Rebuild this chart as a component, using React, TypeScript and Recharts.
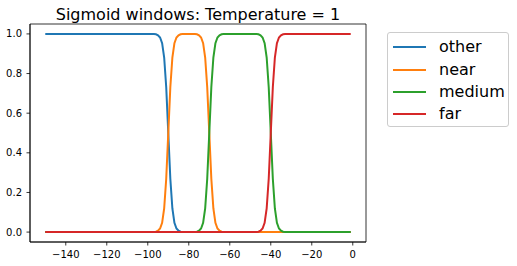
import React from 'react';
import { LineChart, Line, XAxis, YAxis, ReferenceArea, Legend } from 'recharts';

const xs = [-150, -100, -97, -96, -95, -94, -93, -92, -91, -90, -89, -88, -87, -86, -85, -84, -83, -80,
  -77, -76, -75, -74, -73, -72, -71, -70, -69, -68, -67, -66, -65, -64, -63, -55,
  -47, -46, -45, -44, -43, -42, -41, -40, -39, -38, -37, -36, -35, -34, -33, -1];

const otherVals = [1, 1, 0.999, 0.998, 0.993, 0.982, 0.953, 0.881, 0.731, 0.5, 0.269, 0.119, 0.047, 0.018, 0.007, 0.002, 0.001, 0,
  0, 0, 0, 0, 0, 0, 0, 0, 0, 0, 0, 0, 0, 0, 0, 0,
  0, 0, 0, 0, 0, 0, 0, 0, 0, 0, 0, 0, 0, 0, 0, 0];

const nearVals = [0, 0, 0.001, 0.002, 0.007, 0.018, 0.047, 0.119, 0.269, 0.5, 0.731, 0.881, 0.953, 0.982, 0.993, 0.998, 0.999, 1,
  0.999, 0.998, 0.993, 0.982, 0.953, 0.881, 0.731, 0.5, 0.269, 0.119, 0.047, 0.018, 0.007, 0.002, 0.001, 0,
  0, 0, 0, 0, 0, 0, 0, 0, 0, 0, 0, 0, 0, 0, 0, 0];

const mediumVals = [0, 0, 0, 0, 0, 0, 0, 0, 0, 0, 0, 0, 0, 0, 0, 0, 0, 0,
  0.001, 0.002, 0.007, 0.018, 0.047, 0.119, 0.269, 0.5, 0.731, 0.881, 0.953, 0.982, 0.993, 0.998, 0.999, 1,
  0.999, 0.998, 0.993, 0.982, 0.953, 0.881, 0.731, 0.5, 0.269, 0.119, 0.047, 0.018, 0.007, 0.002, 0.001, 0];

const farVals = [0, 0, 0, 0, 0, 0, 0, 0, 0, 0, 0, 0, 0, 0, 0, 0, 0, 0,
  0, 0, 0, 0, 0, 0, 0, 0, 0, 0, 0, 0, 0, 0, 0, 0,
  0.001, 0.002, 0.007, 0.018, 0.047, 0.119, 0.269, 0.5, 0.731, 0.881, 0.953, 0.982, 0.993, 0.998, 0.999, 1];

const xTicks = [-140, -120, -100, -80, -60, -40, -20, 0];
const yTicks = [0, 0.2, 0.4, 0.6, 0.8, 1.0];

const seriesNames = ['other', 'near', 'medium', 'far'];
const seriesColors = ['#1f77b4', '#ff7f0e', '#2ca02c', '#d62728'];
const titleText = 'Sigmoid windows: Temperature = 1';

const data = xs.map((x, i) => ({
  x,
  other: otherVals[i],
  near: nearVals[i],
  medium: mediumVals[i],
  far: farVals[i],
}));

const FONT = '"DejaVu Sans", sans-serif';

const fmtX = (v: number) => (v < 0 ? '\u2212' + Math.abs(v) : String(v));
const fmtY = (v: number) => v.toFixed(1);

const LegendBox = () => (
  <div
    style={{
      position: 'absolute',
      left: 387,
      top: 32,
      width: 122,
      height: 95,
      border: '1px solid #cccccc',
      borderRadius: 3,
      background: 'rgba(255,255,255,0.8)',
      fontFamily: FONT,
      fontSize: 16,
      color: '#000',
      boxSizing: 'border-box',
      paddingTop: 3,
    }}
  >
    {seriesNames.map((n, i) => (
      <div key={n} style={{ height: 22.4, display: 'flex', alignItems: 'center' }}>
        <div style={{ marginLeft: 5, width: 33, height: 2, background: seriesColors[i] }} />
        <span style={{ marginLeft: 13, lineHeight: '16px' }}>{n}</span>
      </div>
    ))}
  </div>
);

export default function App() {
  return (
    <div style={{ position: 'absolute', left: 0, top: 0, width: 517, height: 266, background: '#fff' }}>
      <svg style={{ position: 'absolute', left: 0, top: 0 }} width={517} height={26}>
        <text x={198} y={19.5} textAnchor="middle" fontFamily={FONT} fontSize={16} fill="#000">
          {titleText}
        </text>
      </svg>
      <div style={{ position: 'absolute', left: 0, top: 0 }}>
        <LineChart width={517} height={266} data={data} margin={{ top: 24, right: 151, bottom: 0, left: 0 }}>
          <XAxis
            dataKey="x"
            type="number"
            domain={[-157.45, 6.45]}
            allowDataOverflow
            ticks={xTicks}
            tickFormatter={fmtX}
            height={24}
            tickSize={3.5}
            tickMargin={5}
            axisLine={{ stroke: '#000', strokeWidth: 0.8 }}
            tickLine={{ stroke: '#000', strokeWidth: 0.8 }}
            tick={{ fill: '#000', fontSize: 10, fontFamily: FONT }}
            interval={0}
          />
          <YAxis
            type="number"
            domain={[-0.05, 1.05]}
            allowDataOverflow
            ticks={yTicks}
            tickFormatter={fmtY}
            width={30}
            tickSize={3.5}
            tickMargin={4.5}
            axisLine={{ stroke: '#000', strokeWidth: 0.8 }}
            tickLine={{ stroke: '#000', strokeWidth: 0.8 }}
            tick={{ fill: '#000', fontSize: 10, fontFamily: FONT }}
            interval={0}
          />
          <ReferenceArea
            x1={-157.45}
            x2={6.45}
            y1={-0.05}
            y2={1.05}
            fill="none"
            stroke="#000"
            strokeWidth={0.8}
            ifOverflow="visible"
          />
          {seriesNames.map((n, i) => (
            <Line
              key={n}
              dataKey={n}
              name={n}
              type="linear"
              stroke={seriesColors[i]}
              strokeWidth={2}
              dot={false}
              activeDot={false}
              isAnimationActive={false}
            />
          ))}
          <Legend content={() => null} />
        </LineChart>
      </div>
      <LegendBox />
    </div>
  );
}
